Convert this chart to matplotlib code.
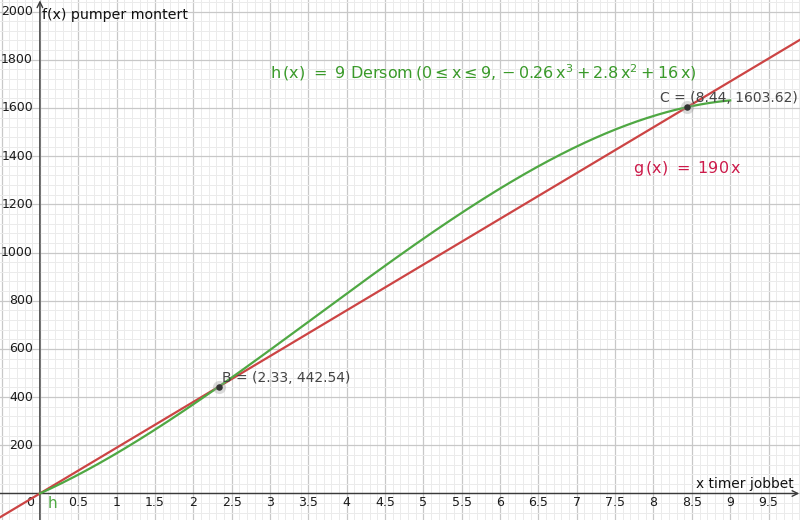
import numpy as np
import matplotlib
matplotlib.use("Agg")
import matplotlib.pyplot as plt
from matplotlib.ticker import MultipleLocator

plt.rcParams['font.family'] = ['DejaVu Sans']
plt.rcParams['mathtext.fontset'] = 'dejavusans'

# ---- data ----
x_ticks = [0.5, 1, 1.5, 2, 2.5, 3, 3.5, 4, 4.5, 5, 5.5, 6, 6.5, 7, 7.5, 8, 8.5, 9, 9.5]
x_tick_labels = ["0.5", "1", "1.5", "2", "2.5", "3", "3.5", "4", "4.5", "5", "5.5",
                 "6", "6.5", "7", "7.5", "8", "8.5", "9", "9.5"]
y_ticks = [200, 400, 600, 800, 1000, 1200, 1400, 1600, 1800, 2000]
y_tick_labels = ["200", "400", "600", "800", "1000", "1200", "1400", "1600", "1800", "2000"]

# h(x) = 9 * (-0.26 x^3 + 2.8 x^2 + 16 x) on [0, 9]  (coefficients shown in the chart)
h_factor = 9
h_coeffs = [-0.26, 2.8, 16, 0]
h_domain = [0, 9]
# g(x) = 190 x
g_slope = 190

points_x = [2.33, 8.44]
points_y = [442.54, 1603.62]
points_names = ["B", "C"]

xlim = (-0.52, 9.91)
ylim = (-110, 2048)

fig = plt.figure(figsize=(8, 5.2), dpi=100)
ax = fig.add_axes([0, 0, 1, 1])
ax.set_xlim(*xlim)
ax.set_ylim(*ylim)

# grid
ax.xaxis.set_major_locator(MultipleLocator(0.5))
ax.xaxis.set_minor_locator(MultipleLocator(0.1))
ax.yaxis.set_major_locator(MultipleLocator(200))
ax.yaxis.set_minor_locator(MultipleLocator(40))
ax.grid(which='major', color='#c8c8c8', lw=0.9, zorder=0)
ax.grid(which='minor', color='#ebebeb', lw=0.7, zorder=0)
ax.tick_params(which='both', length=0, labelbottom=False, labelleft=False)
for s in ax.spines.values():
    s.set_visible(False)

# axes lines with arrows
axis_col = '#3a3a3a'
ax.annotate('', xy=(xlim[1] - 0.01, 0), xytext=(xlim[0], 0),
            arrowprops=dict(arrowstyle='->', color=axis_col, lw=1.0,
                            shrinkA=0, shrinkB=0), zorder=3)
ax.annotate('', xy=(0, ylim[1] - 2), xytext=(0, ylim[0]),
            arrowprops=dict(arrowstyle='->', color=axis_col, lw=1.0,
                            shrinkA=0, shrinkB=0), zorder=3)

# tick labels
lab_col = '#1a1a1a'
for xv, lab in zip(x_ticks, x_tick_labels):
    ax.text(xv, -38, lab, ha='center', va='center', fontsize=9, color=lab_col)
for yv, lab in zip(y_ticks, y_tick_labels):
    ax.text(-0.09, yv, lab, ha='right', va='center', fontsize=9, color=lab_col)
ax.text(-0.07, -38, "0", ha='right', va='center', fontsize=9, color=lab_col)

# axis titles
ax.text(0.03, 1985, "f(x) pumper montert", ha='left', va='center', fontsize=10.2, color='#111111')
ax.text(9.83, 38, "x timer jobbet", ha='right', va='center', fontsize=9.9, color='#111111')

# curves
green = '#4fa843'
red = '#cc4444'
xs = np.linspace(xlim[0], xlim[1], 400)
ax.plot(xs, g_slope * xs, color=red, lw=1.6, zorder=4)
xh = np.linspace(h_domain[0], h_domain[1], 400)
ax.plot(xh, h_factor * np.polyval(h_coeffs, xh), color=green, lw=1.6, zorder=4)

# points
for px, py in zip(points_x, points_y):
    ax.scatter([px], [py], s=90, color='#999999', alpha=0.35, zorder=5, linewidths=0)
    ax.scatter([px], [py], s=22, color='#333333', zorder=6, linewidths=0)

pt_col = '#444444'
ax.text(points_x[0] + 0.04, points_y[0] + 8, "%s = (%.2f, %.2f)" % (points_names[0], points_x[0], points_y[0]),
        ha='left', va='bottom', fontsize=10, color=pt_col, zorder=7)
ax.text(points_x[1] - 0.36, points_y[1] + 10, "%s = (%.2f, %.2f)" % (points_names[1], points_x[1], points_y[1]),
        ha='left', va='bottom', fontsize=10, color=pt_col, zorder=7)

# function labels
ax.text(0.1, -40, "h", ha='left', va='center', fontsize=11, color=green)
ax.text(3.0, 1745,
        r'$\mathrm{h}\,(\mathrm{x})\ =\ 9\ \mathrm{Dersom}\,\left(0\leq\mathrm{x}\leq9,-0.26\,\mathrm{x}^3+2.8\,\mathrm{x}^2+16\,\mathrm{x}\right)$',
        ha='left', va='center', fontsize=11.5, color='#3a9a2a')
ax.text(7.73, 1350, r'$\mathrm{g}\,(\mathrm{x})\ =\ 190\,\mathrm{x}$',
        ha='left', va='center', fontsize=11.5, color='#cc1a4a')

fig.savefig("out.png", dpi=100)
